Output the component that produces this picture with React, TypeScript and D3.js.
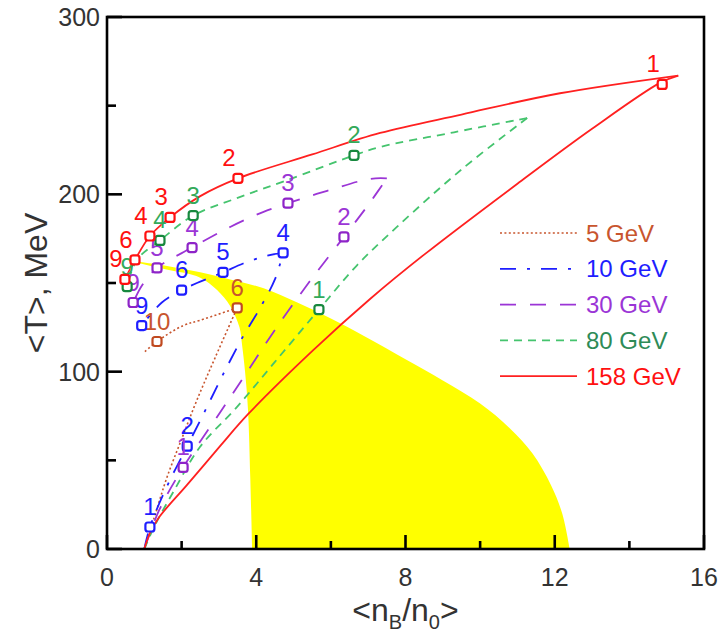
import { useMemo } from 'react';
import * as d3 from 'd3';

type P = [number, number];
type Mark = [string, number, number];

const xTicks = [0, 4, 8, 12, 16];
const xMinor = [2, 6, 10, 14];
const yTicks = [0, 100, 200, 300];
const yMinor = [50, 150, 250];

const seriesNames = ['5 GeV', '10 GeV', '30 GeV', '80 GeV', '158 GeV'];

// compression (lower) and expansion (upper) branches, <nB/n0> vs <T>
const lower5: P[] = [[1, 0], [1.3, 20], [1.6, 40], [2.0, 62], [2.41, 84], [2.9, 108], [3.49, 136]];
const upper5: P[] = [[3.49, 136], [2.5, 129], [2.04, 126], [1.34, 117], [0.97, 110.5]];
const marks5: Mark[] = [['6', 3.49, 136], ['10', 1.34, 117]];

const lower10: P[] = [[1, 0], [1.15, 12.4], [1.6, 35], [2.15, 58], [2.63, 78], [3.1, 98], [3.65, 120], [4.05, 134], [4.5, 152], [4.72, 167]];
const upper10: P[] = [[4.72, 167], [4.3, 165.5], [3.65, 161], [3.11, 156], [2.41, 150], [2.0, 146], [1.47, 139], [0.93, 126]];
const marks10: Mark[] = [['1', 1.15, 12.4], ['2', 2.15, 58], ['4', 4.72, 167], ['5', 3.11, 156], ['6', 2.0, 146], ['9', 0.93, 126]];

const lower30: P[] = [[1, 0], [1.4, 22], [2.04, 46], [3.03, 77], [3.7, 98], [4.45, 122], [5.4, 150], [6.35, 176], [7.0, 194], [7.5, 209]];
const upper30: P[] = [[7.5, 209], [7.05, 208.7], [5.9, 202], [4.85, 195], [4.18, 190], [3.3, 181.6], [2.28, 170], [1.34, 158.5], [0.95, 149], [0.7, 139]];
const marks30: Mark[] = [['1', 2.04, 46], ['2', 6.35, 176], ['3', 4.85, 195], ['4', 2.28, 170], ['5', 1.34, 158.5], ['9', 0.7, 139]];

const lower80: P[] = [[1, 0], [1.3, 14], [1.8, 33], [2.49, 57.5], [3.48, 80], [4.5, 105.5], [5.68, 135], [6.7, 160], [7.77, 181.6], [9.5, 214], [11.26, 243]];
const upper80: P[] = [[11.26, 243], [9.3, 235], [7.32, 226.7], [6.62, 222], [4.83, 208], [3.5, 198], [2.31, 188], [1.42, 174], [0.8, 163], [0.54, 148]];
const marks80: Mark[] = [['1', 5.68, 135], ['2', 6.62, 222], ['3', 2.31, 188], ['4', 1.42, 174], ['9', 0.54, 148]];

const lower158: P[] = [[1, 0], [1.15, 9], [1.4, 18], [2.14, 36], [3.03, 58], [3.78, 76], [5.52, 112], [7.05, 141], [8.5, 166], [11, 206], [13, 237], [14.83, 263], [15.31, 267]];
const upper158: P[] = [[15.31, 267], [12.14, 257], [9.5, 245], [7.32, 234.6], [5.5, 222.5], [3.51, 209], [2.5, 199], [1.69, 187], [1.15, 176.5], [0.75, 163], [0.48, 152]];
const marks158: Mark[] = [['1', 14.88, 262], ['2', 3.51, 209], ['3', 1.69, 187], ['4', 1.15, 176.5], ['6', 0.75, 163], ['9', 0.48, 152]];

// yellow region: upper edge left->right, then lower-left edge bottom->top
const yellowUpper: P[] = [[0.5, 163], [1.5, 160], [2.5, 156], [3.3, 152], [4.2, 147], [5.1, 139], [6.0, 130], [6.9, 120], [8.0, 107], [9.0, 95], [10.0, 82], [10.8, 68], [11.4, 54], [11.9, 36], [12.2, 20], [12.4, 0]];
const yellowLower: P[] = [[3.89, 0], [3.84, 40], [3.78, 78], [3.7, 100], [3.62, 115], [3.55, 125], [3.3, 137], [2.95, 146], [2.5, 153], [1.5, 158], [0.5, 163]];

const STYLES = [
  { line: '#c8552e', text: '#c8552e', mark: '#c04a20', dash: '2,2.4', width: 1.6, dx: 0 },
  { line: '#1e1eff', text: '#1e1eff', mark: '#1e1eff', dash: '16,11,3,11', width: 1.8, dx: 0 },
  { line: '#9b35d6', text: '#9b35d6', mark: '#8e24c8', dash: '16,14', width: 1.8, dx: 0 },
  { line: '#45c46e', text: '#33aa5a', mark: '#17883e', dash: '8,6', width: 1.8, dx: 0 },
  { line: '#ff2020', text: '#ff1010', mark: '#ff1010', dash: '', width: 1.8, dx: -9 },
];
const LEGEND_TEXT = ['#c8552e', '#1e1eff', '#9b35d6', '#2e8b57', '#ff1010'];

const W = 719;
const H = 639;
const FONT = '"Liberation Sans", Arial, sans-serif';

export default function App() {
  const x = d3.scaleLinear().domain([0, 16]).range([107, 704]);
  const y = d3.scaleLinear().domain([0, 300]).range([549, 17]);

  const line = d3.line<P>().x(d => x(d[0])).y(d => y(d[1])).curve(d3.curveCatmullRom.alpha(0.5));

  const yellowPath = useMemo(() => {
    const a = line(yellowUpper) || '';
    const b = (line(yellowLower) || '').replace(/^M/, 'L');
    return a + b + 'Z';
  }, []);

  const series = [
    { lower: lower5, upper: upper5, marks: marks5 },
    { lower: lower10, upper: upper10, marks: marks10 },
    { lower: lower30, upper: upper30, marks: marks30 },
    { lower: lower80, upper: upper80, marks: marks80 },
    { lower: lower158, upper: upper158, marks: marks158 },
  ];

  const [x0, x1] = x.range();
  const [y0, y1] = y.range();

  return (
    <svg width={W} height={H} style={{ position: 'absolute', left: 0, top: 0, background: '#fff' }} fontFamily={FONT}>
      <defs>
        <clipPath id="plot">
          <rect x={x0} y={y1} width={x1 - x0} height={y0 - y1} />
        </clipPath>
      </defs>

      <g clipPath="url(#plot)">
        <path d={yellowPath} fill="#ffff00" stroke="none" />
        {series.map((s, i) => (
          <g key={i} fill="none" stroke={STYLES[i].line} strokeWidth={STYLES[i].width} strokeDasharray={STYLES[i].dash || undefined}>
            <path d={line(s.lower) || ''} />
            <path d={line(s.upper) || ''} />
          </g>
        ))}
      </g>

      {series.map((s, i) => (
        <g key={'m' + i}>
          {s.marks.map((m, j) => (
            <g key={j}>
              <rect x={x(m[1]) - 4.5} y={y(m[2]) - 4.5} width={9} height={9} rx={2.5}
                fill="#fff" stroke={STYLES[i].mark} strokeWidth={2.2} />
              <text x={x(m[1]) + STYLES[i].dx} y={y(m[2]) - 12} textAnchor="middle"
                fontSize={24} fill={STYLES[i].text}>{m[0]}</text>
            </g>
          ))}
        </g>
      ))}

      {/* frame and ticks */}
      <rect x={x0} y={y1} width={x1 - x0} height={y0 - y1} fill="none" stroke="#000" strokeWidth={2.6} />
      {xTicks.map(t => (
        <g key={'xt' + t}>
          <line x1={x(t)} x2={x(t)} y1={y0} y2={y0 - 14} stroke="#000" strokeWidth={2.6} />
          <text x={x(t)} y={y0 + 37} textAnchor="middle" fontSize={25} fill="#333">{t}</text>
        </g>
      ))}
      {xMinor.map(t => (
        <line key={'xm' + t} x1={x(t)} x2={x(t)} y1={y0} y2={y0 - 8} stroke="#000" strokeWidth={2.6} />
      ))}
      {yTicks.map(t => (
        <g key={'yt' + t}>
          <line x1={x0} x2={x0 + 15} y1={y(t)} y2={y(t)} stroke="#000" strokeWidth={2.6} />
          <text x={x0 - 7} y={y(t) + 9} textAnchor="end" fontSize={25} fill="#333">{t}</text>
        </g>
      ))}
      {yMinor.map(t => (
        <line key={'ym' + t} x1={x0} x2={x0 + 9} y1={y(t)} y2={y(t)} stroke="#000" strokeWidth={2.6} />
      ))}

      {/* axis titles */}
      <text transform={`translate(47,${(y0 + y1) / 2}) rotate(-90)`} textAnchor="middle" fontSize={32} fill="#333">
        &lt;T&gt;, MeV
      </text>
      <text x={(x0 + x1) / 2} y={621} textAnchor="middle" fontSize={32} fill="#333">
        &lt;n<tspan fontSize={20} dy={8}>B</tspan><tspan dy={-8}>/n</tspan><tspan fontSize={20} dy={8}>0</tspan><tspan dy={-8}>&gt;</tspan>
      </text>

      {/* legend */}
      {seriesNames.map((name, i) => {
        const ly = 233 + i * 35.8;
        return (
          <g key={'lg' + i}>
            <line x1={500} x2={577} y1={ly} y2={ly} stroke={STYLES[i].line} strokeWidth={STYLES[i].width}
              strokeDasharray={STYLES[i].dash || undefined} />
            <text x={586} y={ly + 8.5} fontSize={24} fill={LEGEND_TEXT[i]}>{name}</text>
          </g>
        );
      })}
    </svg>
  );
}
